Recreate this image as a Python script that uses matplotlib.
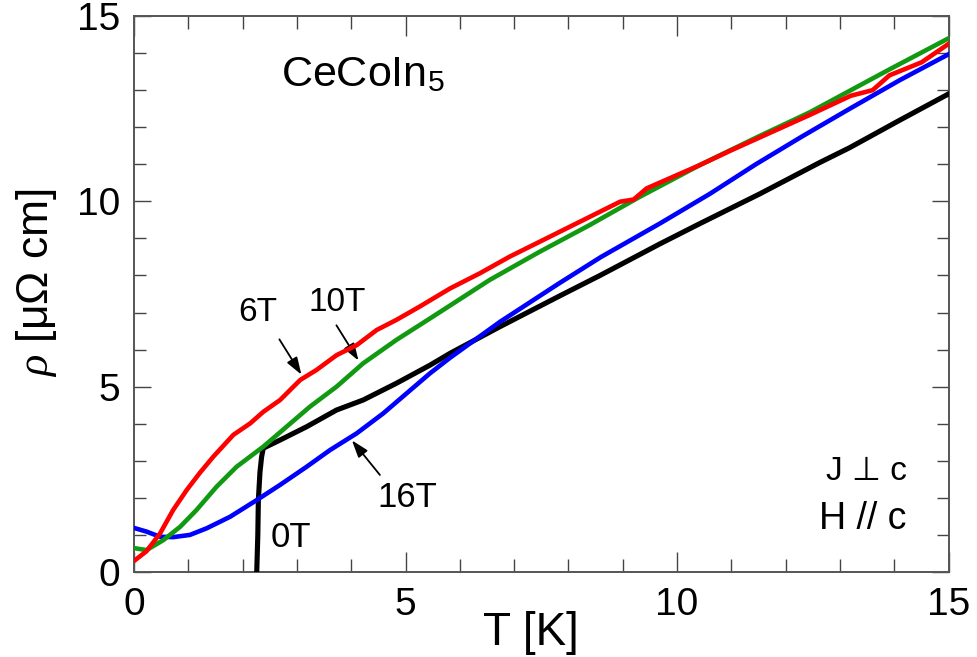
import matplotlib
matplotlib.use("Agg")
import matplotlib.pyplot as plt
from matplotlib.ticker import MultipleLocator

plt.rcParams["font.family"] = ["Liberation Sans", "DejaVu Sans"]
plt.rcParams["mathtext.fontset"] = "custom"
plt.rcParams["mathtext.rm"] = "Liberation Sans"
plt.rcParams["mathtext.it"] = "Liberation Serif:italic"

# 0 T
t_0T = [2.26, 2.28, 2.29, 2.32, 2.35, 2.38, 2.69, 3.18, 3.73, 4.22, 4.83, 5.45,
        5.82, 6.74, 7.84, 8.58, 9.68, 10.42, 11.52, 12.63, 13.18, 14.1, 15.0]
rho_0T = [0.0, 1.0, 1.94, 2.7, 3.11, 3.34, 3.56, 3.92, 4.37, 4.64, 5.09, 5.58,
          5.9, 6.62, 7.45, 8.0, 8.85, 9.4, 10.2, 11.05, 11.45, 12.19, 12.9]

# 16 T
t_16T = [0.02, 0.23, 0.48, 0.72, 1.03, 1.34, 1.77, 2.26, 2.69, 3.18, 3.61, 4.1,
         4.59, 5.02, 5.45, 5.82, 6.74, 7.84, 8.6, 9.68, 10.6, 11.45, 12.3,
         13.18, 14.1, 15.0]
rho_16T = [1.18, 1.09, 0.95, 0.94, 1.0, 1.18, 1.49, 1.94, 2.35, 2.84, 3.29, 3.74,
           4.28, 4.82, 5.36, 5.78, 6.75, 7.8, 8.5, 9.4, 10.2, 11.0, 11.75,
           12.5, 13.27, 13.97]

# 10 T
t_10T = [0.02, 0.23, 0.54, 0.85, 1.15, 1.52, 1.89, 2.38, 2.81, 3.24, 3.73, 4.22,
         4.83, 5.45, 6.55, 7.47, 8.39, 9.31, 10.42, 11.5, 12.44, 13.91, 15.0]
rho_10T = [0.64, 0.59, 0.86, 1.22, 1.67, 2.3, 2.84, 3.38, 3.92, 4.46, 5.0, 5.63,
           6.26, 6.84, 7.88, 8.64, 9.36, 10.12, 10.98, 11.75, 12.4, 13.56, 14.4]

# 6 T
t_6T = [0.02, 0.23, 0.48, 0.72, 0.97, 1.21, 1.46, 1.83, 2.14, 2.38, 2.69, 3.06,
        3.36, 3.73, 4.1, 4.47, 4.83, 5.26, 5.82, 6.37, 6.92, 7.47, 8.21, 8.95,
        9.2, 9.44, 10.42, 10.97, 12.44, 13.2, 13.6, 13.91, 14.5, 15.0]
rho_6T = [0.32, 0.56, 1.04, 1.67, 2.21, 2.67, 3.11, 3.7, 4.01, 4.32, 4.64, 5.18,
          5.45, 5.85, 6.12, 6.53, 6.8, 7.16, 7.65, 8.06, 8.51, 8.91, 9.45, 9.99,
          10.05, 10.35, 10.98, 11.36, 12.33, 12.85, 13.0, 13.4, 13.75, 14.25]

fig = plt.figure(figsize=(9.78, 6.57), dpi=100)
ax = fig.add_axes([0.137, 0.1294, 0.833, 0.8462])

ax.plot(t_0T, rho_0T, color="black", lw=3.7, zorder=3)
ax.plot(t_16T, rho_16T, color="#0000ff", lw=3.3, zorder=4)
ax.plot(t_10T, rho_10T, color="#129912", lw=3.3, zorder=5)
ax.plot(t_6T, rho_6T, color="#ff0000", lw=3.3, zorder=6)

ax.set_xlim(0, 15)
ax.set_ylim(0, 15)
ax.xaxis.set_major_locator(MultipleLocator(5))
ax.xaxis.set_minor_locator(MultipleLocator(1))
ax.yaxis.set_major_locator(MultipleLocator(5))
ax.yaxis.set_minor_locator(MultipleLocator(1))

ax.tick_params(axis="x", which="major", direction="in", length=14.4, width=1.0,
               color="#444444", top=True, labelsize=28, pad=11)
ax.tick_params(axis="x", which="minor", direction="in", length=9.4, width=1.0,
               color="#444444", top=True)
ax.tick_params(axis="y", which="major", direction="in", length=12.2, width=1.0,
               color="#444444", right=True, labelsize=28, pad=10)
ax.tick_params(axis="y", which="minor", direction="in", length=8.6, width=1.0,
               color="#444444", right=True)
for sp in ax.spines.values():
    sp.set_color("#555555")
    sp.set_linewidth(1.4)

ax.set_xlabel("T [K]", fontsize=33, labelpad=-9)
ax.xaxis.label.set_x(0.487)
ax.set_ylabel(r"$\rho$ [μΩ cm]", fontsize=32, labelpad=13)
ax.yaxis.label.set_y(0.52)

ax.text(4.21, 13.4, r"CeCoIn$_5$", fontsize=31, ha="center", va="center")

arrow = dict(arrowstyle="-|>,head_length=0.65,head_width=0.22", color="black",
             lw=1.3, mutation_scale=16)
ax.annotate("", xy=(3.11, 5.26), xytext=(2.65, 6.34), arrowprops=arrow)
ax.annotate("", xy=(4.16, 5.64), xytext=(3.70, 6.72), arrowprops=arrow)
ax.annotate("", xy=(3.98, 3.61), xytext=(4.56, 2.56), arrowprops=arrow)
ax.text(2.28, 7.01, "6T", fontsize=24, ha="center", va="center")
ax.text(3.75, 7.28, "10T", fontsize=24, ha="center", va="center")
ax.text(5.04, 2.0, "16T", fontsize=25, ha="center", va="center")
ax.text(2.89, 0.92, "0T", fontsize=25, ha="center", va="center")

ax.text(14.23, 2.72, "J ⊥ c", fontsize=24, ha="right", va="center")
ax.text(14.23, 1.43, "H // c", fontsize=27, ha="right", va="center")

fig.savefig("out.png", dpi=100)
